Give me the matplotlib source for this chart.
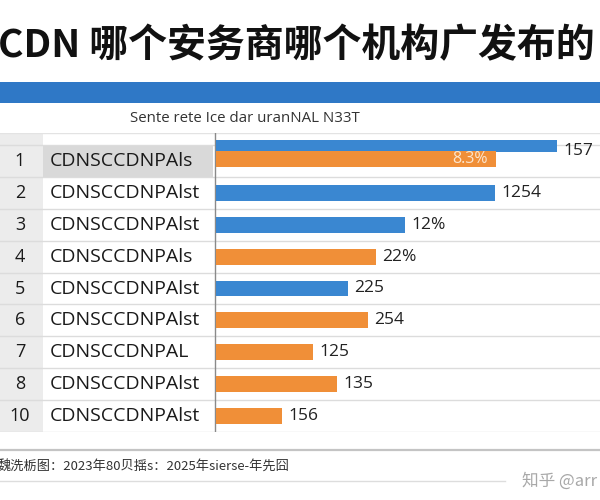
import matplotlib
matplotlib.use("Agg")
import matplotlib.pyplot as plt
from matplotlib.patches import Rectangle

plt.rcParams['font.family'] = ['Open Sans', 'Noto Sans CJK SC', 'DejaVu Sans']

# data
ranks = ['1', '2', '3', '4', '5', '6', '7', '8', '10']
names = ['CDNSCCDNPAls', 'CDNSCCDNPAlst', 'CDNSCCDNPAlst', 'CDNSCCDNPAls',
         'CDNSCCDNPAlst', 'CDNSCCDNPAlst', 'CDNSCCDNPAL', 'CDNSCCDNPAlst',
         'CDNSCCDNPAlst']
values = [341, 279, 189, 160, 132, 152, 97, 121, 66]
labels = ['157', '1254', '12%', '22%', '225', '254', '125', '135', '156']
series = ['b', 'b', 'b', 'o', 'b', 'o', 'o', 'o', 'o']
extra_value = 280          # second bar of row 1
extra_label = '8.3%'

title = 'CDN 哪个安务商哪个机构广发布的'
subtitle = 'Sente rete Ice dar uranNAL N33T'
footnote = '魏洗栃图：2023年80贝揺s：2025年sierse-年先囧'
watermark = '知乎 @arr'

BLUE = '#3a87d1'
ORANGE = '#f08f38'
col = {'b': BLUE, 'o': ORANGE}

fig = plt.figure(figsize=(6, 5), dpi=100)

# background layer in pixel coords
bg = fig.add_axes([0, 0, 1, 1])
bg.set_xlim(0, 600)
bg.set_ylim(500, 0)
bg.axis('off')
bg.add_patch(Rectangle((0, 82), 600, 21, color='#2f78c6', lw=0))
bg.text(-2, 46, title, fontsize=28, fontweight='bold', va='center', ha='left',
        family=['Noto Sans CJK SC'], color='#111111')
bg.text(130, 118, subtitle, fontsize=10.8, va='center', color='#333333')
bg.plot([0, 600], [450, 450], color='#c4c4c4', lw=1.6)
bg.plot([0, 505], [481, 481], color='#dddddd', lw=1)
bg.text(-2, 467, footnote, fontsize=9.5, va='center', color='#333333',
        family=['Noto Sans CJK SC'])
bg.text(522, 481, watermark, fontsize=12, va='center', color='#a8a8a8',
        family=['Noto Sans CJK SC'])

n = len(ranks)
top_px, bot_px = 133, 432
row_px = (bot_px - 145) / n
ytop = -0.5 - (145 - top_px) / row_px
box = [0, 1 - bot_px / 500, 1, (bot_px - top_px) / 500]

# table layer
tab = fig.add_axes(box)
tab.set_xlim(0, 600)
tab.set_ylim(n - 0.5, ytop)
tab.axis('off')
tab.add_patch(Rectangle((0, ytop), 43, n - 0.5 - ytop, color='#ececec', lw=0))
tab.add_patch(Rectangle((43, -0.5), 170, 1, color='#d9d9d9', lw=0))
for k in range(-1, n):
    tab.axhline(k + 0.5, color='#dcdcdc', lw=1)
tab.axhline(ytop, color='#e3e3e3', lw=1)
tab.plot([215, 215], [ytop, n - 0.5], color='#8a8a8a', lw=1)
for i in range(n):
    tab.text(20, i, ranks[i], fontsize=13, ha='center', va='center', color='#1a1a1a')
    tab.text(50, i, names[i], fontsize=14, ha='left', va='center', color='#1a1a1a')

# bar layer
ax = fig.add_axes([216 / 600, box[1], 384 / 600, box[3]])
ax.set_xlim(0, 384)
ax.set_ylim(n - 0.5, ytop)
ax.patch.set_alpha(0)
ax.axis('off')

ypos = list(range(n))
heights = [0.5] * n
ypos[0] = -0.47
heights[0] = 0.36
ax.barh(ypos, values, height=heights, color=[col[s] for s in series])
ax.barh([-0.06], [extra_value], height=0.5, color=ORANGE)
for i in range(n):
    ax.text(values[i] + 6, ypos[i] + (0.15 if i == 0 else 0), labels[i],
            fontsize=12.5, va='center', color='#222222')
ax.text(extra_value - 8, -0.06, extra_label, fontsize=11.5, ha='right',
        va='center', color='#fbe6cf')

fig.savefig('out.png', dpi=100)
